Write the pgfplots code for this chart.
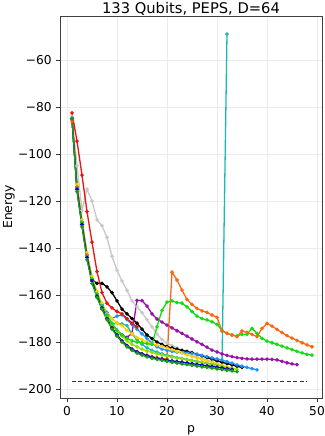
\documentclass[border=0pt]{standalone}
\usepackage{fontspec}
\setmainfont{DejaVu Sans}
\usepackage{pgfplots}
\pgfplotsset{compat=1.18}
\definecolor{cred}{HTML}{EE1111}
\definecolor{cgray}{HTML}{C8C8C8}
\definecolor{cpurple}{HTML}{9911AA}
\definecolor{clime}{HTML}{11DD11}
\definecolor{corange}{HTML}{FF6611}
\definecolor{cteal}{HTML}{1AB8B8}
\definecolor{cdodger}{HTML}{1E8FFF}
\definecolor{cblue}{HTML}{0000CC}
\definecolor{cdgreen}{HTML}{1A9A1A}
\definecolor{cgold}{HTML}{FFD000}
\definecolor{cygreen}{HTML}{99DD00}
\begin{document}
\fontsize{12.2}{15}\selectfont
\begin{tikzpicture}
\begin{axis}[name=ax, scale only axis, width=262pt, height=382pt,
  xmin=-1.4, xmax=51, ymin=-203.8, ymax=-41.3,
  xtick={0,10,20,30,40,50},
  ytick={-200,-180,-160,-140,-120,-100,-80,-60},
  yticklabels={−200,−180,−160,−140,−120,−100,−80,−60},
  /pgf/number format/assume math mode=true,
  tick label style={font=\fontsize{12.2}{15}\selectfont},
  label style={font=\fontsize{12.4}{15}\selectfont},
  title style={font=\fontsize{14.7}{17}\selectfont, at={(axis description cs:0.5,1)}, anchor=base, yshift=-4pt},
  title={133 Qubits, PEPS, D=64}, xlabel={p}, ylabel={Energy},
  xlabel style={at={(axis description cs:0.5,0)}, anchor=base, yshift=-34pt},
  ylabel style={at={(axis description cs:-0.195,0.5)}, anchor=center},
  grid=major, major grid style={gray!15, line width=0.5pt},
  tick align=outside, xtick pos=bottom, ytick pos=left,
  major tick length=4pt, tick style={black!80, line width=0.8pt},
  axis line style={black!75, line width=0.8pt},
  every axis plot/.append style={line width=1.3pt, mark=*, mark size=1.1pt},
  clip=true]
\addplot[cgray] coordinates {(1,-84)(2,-105)(3,-124)(4,-115)(5,-120)(6,-128)(7,-130.5)(8,-135.5)(9,-143.5)(10,-149.5)(11,-154)(12,-158)(13,-162.5)(14,-165)(15,-167.5)(16,-170.5)(17,-173.5)(18,-176.5)(19,-179)(20,-180.5)(21,-181.5)(22,-182.5)(23,-183.5)(24,-184.5)(25,-185.5)(26,-186.3)(27,-187)(28,-187.7)(29,-188.3)(30,-188.9)};
\addplot[black] coordinates {(1,-85)(2,-114)(3,-129)(4,-143)(5,-153.5)(6,-155)(7,-155)(8,-156.5)(9,-159)(10,-162.5)(11,-166)(12,-168)(13,-170)(14,-172)(15,-174.5)(16,-177)(17,-178.5)(18,-180)(19,-181)(20,-182)(21,-182.5)(22,-183)(23,-183.5)(24,-184)(25,-184.5)(26,-185.2)(27,-185.9)(28,-186.6)(29,-187.3)(30,-188)(31,-188.6)(32,-189.2)(33,-189.7)(34,-190.3)(35,-190.8)};
\addplot[cpurple] coordinates {(1,-85)(2,-115)(3,-130)(4,-144)(5,-154)(6,-160)(7,-165)(8,-169)(9,-172.5)(10,-175)(11,-177)(12,-178)(13,-176.3)(14,-162.3)(15,-162.4)(16,-164.7)(17,-168)(18,-170.2)(19,-171.5)(20,-172.8)(21,-174)(22,-175.2)(23,-176.3)(24,-177.5)(25,-178.7)(26,-179.9)(27,-181)(28,-182.2)(29,-183.4)(30,-184.2)(31,-185)(32,-185.7)(33,-186.2)(34,-186.6)(35,-186.9)(36,-187.2)(37,-187.3)(38,-187.3)(39,-187.3)(40,-187.3)(41,-187.4)(42,-187.6)(43,-188.2)(44,-188.8)(45,-189.3)(46,-189.6)};
\addplot[cdodger] coordinates {(1,-85)(2,-114)(3,-129)(4,-143)(5,-153)(6,-159.5)(7,-164)(8,-167.5)(9,-170)(10,-169)(11,-168.4)(12,-170.5)(13,-172.5)(14,-174.5)(15,-176.5)(16,-178.5)(17,-180.5)(18,-182)(19,-183)(20,-183.5)(21,-184)(22,-184.3)(23,-184.5)(24,-184.7)(25,-184.8)(26,-185.2)(27,-185.7)(28,-186.2)(29,-186.7)(30,-187.2)(31,-187.7)(32,-188.3)(33,-189)(34,-189.7)(35,-190.3)(36,-190.8)(37,-191.3)(38,-191.8)};
\addplot[cteal] coordinates {(1,-85)(2,-115)(3,-130)(4,-144)(5,-154)(6,-160.5)(7,-165.5)(8,-169.5)(9,-172.5)(10,-172)(11,-172.3)(12,-173)(13,-176.5)(14,-179)(15,-181)(16,-182.5)(17,-183.5)(18,-184.3)(19,-185)(20,-185.6)(21,-186.1)(22,-186.6)(23,-187)(24,-187.4)(25,-187.8)(26,-188.2)(27,-188.6)(28,-189)(29,-189.3)(30,-189.6)(31,-189.9)(32,-49)};
\addplot[cgold] coordinates {(1,-85)(2,-113)(3,-128)(4,-142)(5,-152)(6,-158.5)(7,-163.5)(8,-168)(9,-170)(10,-172)(11,-173)(12,-175)(13,-176.5)(14,-178)(15,-179)(16,-180)(17,-180.8)(18,-181.3)(19,-181.8)(20,-182.5)(21,-183.2)(22,-184)(23,-184.7)(24,-185.5)(25,-186.1)(26,-186.8)(27,-187.4)(28,-188)(29,-188.6)(30,-189.3)(31,-189.9)(32,-190.5)(33,-191.5)};
\addplot[cygreen] coordinates {(1,-85)(2,-115)(3,-130)(4,-144)(5,-154)(6,-160)(7,-165)(8,-169)(9,-172.5)(10,-175.5)(11,-177.5)(12,-179.5)(13,-181)(14,-182)(15,-183)(16,-183.8)(17,-184.4)(18,-185)(19,-185.5)(20,-186)(21,-186.4)(22,-186.8)(23,-187.2)(24,-187.6)(25,-188)(26,-188.4)(27,-188.8)(28,-189.2)(29,-189.6)(30,-190)(31,-190.4)(32,-190.8)(33,-191.2)(34,-191.6)};
\addplot[clime] coordinates {(1,-85)(2,-114)(3,-129)(4,-143)(5,-153)(6,-159.5)(7,-164.5)(8,-168.5)(9,-172)(10,-175)(11,-177)(12,-178.5)(13,-179.5)(14,-180)(15,-180.3)(16,-180.7)(17,-181)(18,-173.5)(19,-166.5)(20,-163)(21,-162.5)(22,-163.2)(23,-163.5)(24,-165)(25,-167)(26,-169)(27,-170)(28,-170.6)(29,-171.4)(30,-172.5)(31,-175)(32,-176.3)(33,-177)(34,-177.4)(35,-176.7)(36,-176.7)(37,-174.2)(38,-176.3)(39,-178.4)(40,-179.6)(41,-180.3)(42,-181)(43,-181.7)(44,-182.5)(45,-183.2)(46,-184)(47,-184.6)(48,-185.2)(49,-185.6)};
\addplot[cred] coordinates {(1,-82.5)(2,-94.5)(3,-109)(4,-124.5)(5,-137.5)(6,-150)(7,-159)(8,-163.5)(9,-165.5)(10,-167)(11,-168)(12,-170)(13,-172)(14,-173.5)};
\addplot[corange] coordinates {(1,-86)(2,-114)(3,-130)(4,-143)(5,-154)(6,-161)(7,-166)(8,-170.5)(9,-174)(10,-177)(11,-179.5)(12,-181.5)(13,-183)(14,-184)(15,-185)(16,-185.6)(17,-186.2)(18,-186.6)(19,-187)(20,-187.2)(21,-150.3)(22,-153.6)(23,-157.9)(24,-161.9)(25,-164)(26,-165.7)(27,-166.7)(28,-167.4)(29,-168.5)(30,-169.5)(31,-175.3)(32,-176.3)(33,-177)(34,-177.7)(35,-175.3)(36,-175.9)(37,-176.7)(38,-177.7)(39,-174.2)(40,-172.1)(41,-173.2)(42,-174.6)(43,-176)(44,-177.3)(45,-178.3)(46,-179.3)(47,-180.3)(48,-181.2)(49,-182)};
\addplot[cblue] coordinates {(1,-85)(2,-115)(3,-130)(4,-144)(5,-154)(6,-160.5)(7,-165.5)(8,-170)(9,-174)(10,-177)(11,-179.5)(12,-181.5)(13,-183)(14,-184.2)(15,-185)(16,-185.8)(17,-186.4)(18,-186.9)(19,-187.3)(20,-187.7)(21,-188)(22,-188.3)(23,-188.6)(24,-188.9)(25,-189.2)(26,-189.5)(27,-189.8)(28,-190.1)(29,-190.4)(30,-190.7)(31,-191)(32,-191.3)(33,-191.6)};
\addplot[cdgreen] coordinates {(1,-85)(2,-116)(3,-131)(4,-145)(5,-155)(6,-161)(7,-166)(8,-170.5)(9,-174.5)(10,-177.5)(11,-180)(12,-182)(13,-183.5)(14,-184.7)(15,-185.6)(16,-186.3)(17,-186.9)(18,-187.4)(19,-187.8)(20,-188.2)(21,-188.6)(22,-189)(23,-189.3)(24,-189.6)(25,-189.9)(26,-190.2)(27,-190.5)(28,-190.8)(29,-191.1)(30,-191.4)(31,-191.7)(32,-192)(33,-192.3)(34,-192.6)};
\addplot[black!80, dashed, dash pattern=on 4pt off 2.5pt, line width=1.3pt, no marks] coordinates {(1,-196.9)(48,-196.9)};
\end{axis}
\pgfresetboundingbox
\path ([shift={(-60pt,-38pt)}]ax.south west) rectangle ([shift={(2pt,16pt)}]ax.north east);
\end{tikzpicture}
\end{document}
